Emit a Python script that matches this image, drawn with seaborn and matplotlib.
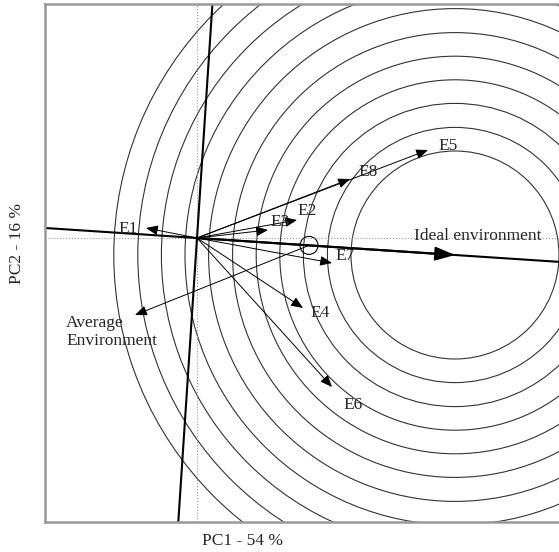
import numpy as np
import pandas as pd
import seaborn as sns
import matplotlib.pyplot as plt
from matplotlib.patches import Circle

sns.set_style('white')
plt.rcParams['font.family'] = ['Liberation Serif', 'DejaVu Serif']

# environment vectors (PC1, PC2 scores)
env_names = ['E1', 'E2', 'E3', 'E4', 'E5', 'E6', 'E7', 'E8']
env_pc1 = [-1.275, 2.5, 1.775, 2.65, 5.775, 3.375, 3.375, 3.825]
env_pc2 = [0.25, 0.45, 0.2, -1.75, 2.2, -3.725, -0.625, 1.475]
# label positions
lab_pc1 = [-1.725, 2.75, 2.075, 3.075, 6.275, 3.9, 3.7, 4.275]
lab_pc2 = [0.225, 0.675, 0.4, -1.875, 2.3, -4.175, -0.45, 1.65]

ideal = (6.45, -0.425)
aec = (2.8, -0.185)
avg_env_tip = (-1.55, -1.925)
ring_radii = [2.60, 3.19, 3.79, 4.38, 4.97, 5.56, 6.16, 6.75, 7.34, 7.93, 8.53]

xlim = (-3.8, 10.075)
ylim = (-7.1, 5.85)

fig = plt.figure(figsize=(5.59, 5.52), dpi=100)
ax = fig.add_axes([45 / 559, 30 / 552, 555 / 559, 518 / 552])

# concentric circles around the ideal environment
for r in ring_radii:
    ax.add_patch(Circle(ideal, r, fill=False, ec='#333333', lw=0.8))

# dotted reference axes
ax.axhline(0, color='#999999', ls=':', lw=0.8)
ax.axvline(0, color='#999999', ls=':', lw=0.8)

# AEA axis and its perpendicular through the origin
d = np.array(ideal) / np.hypot(*ideal)
t = np.array([-20, 20])
aea = pd.DataFrame({'x': t * d[0], 'y': t * d[1]})
perp = pd.DataFrame({'x': -t * d[1], 'y': t * d[0]})
sns.lineplot(data=aea, x='x', y='y', color='black', lw=1.5, sort=False, ax=ax)
sns.lineplot(data=perp, x='x', y='y', color='black', lw=1.5, sort=False, ax=ax)

# environment vectors
small = dict(arrowstyle='-|>,head_length=0.6,head_width=0.25', color='black',
             lw=0.7, mutation_scale=12, shrinkA=0, shrinkB=0)
for x, y in zip(env_pc1, env_pc2):
    ax.annotate('', xy=(x, y), xytext=(0, 0), arrowprops=small)
for name, x, y in zip(env_names, lab_pc1, lab_pc2):
    ax.text(x, y, name, fontsize=12.5, ha='center', va='center')

# ideal environment arrow
big = dict(arrowstyle='-|>,head_length=1.0,head_width=0.35', color='black',
           lw=1.5, mutation_scale=12, shrinkA=0, shrinkB=0)
ax.annotate('', xy=ideal, xytext=(0, 0), arrowprops=big)
ax.text(7.025, 0.05, 'Ideal environment', fontsize=12.5, ha='center', va='center')

# average environment
ax.add_patch(Circle(aec, 0.225, fill=False, ec='black', lw=0.8))
ax.annotate('', xy=avg_env_tip, xytext=aec, arrowprops=small)
ax.text(-3.275, -2.35, 'Average\nEnvironment', fontsize=12.5, ha='left', va='center',
        linespacing=1.1)

ax.set_xlim(*xlim)
ax.set_ylim(*ylim)
ax.set_xticks([])
ax.set_yticks([])
ax.set_xlabel('')
ax.set_ylabel('')
for side in ['left', 'bottom', 'top']:
    ax.spines[side].set_color('#999999')
    ax.spines[side].set_linewidth(1.8)
ax.spines['right'].set_visible(False)

fig.text(242 / 559, 1 - 541 / 552, 'PC1 - 54 %', fontsize=12.5, ha='center', va='center')
fig.text(17 / 559, 1 - 244 / 552, 'PC2 - 16 %', fontsize=12.5, ha='center', va='center',
         rotation=90)

fig.savefig('out.png', dpi=100)
